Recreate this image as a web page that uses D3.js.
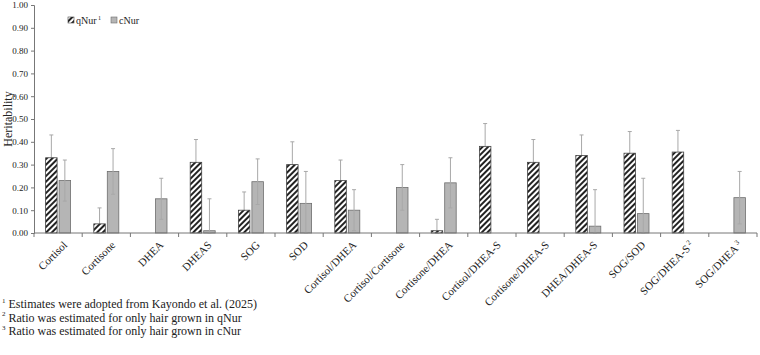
<!DOCTYPE html>
<html lang="en">
<meta charset="utf-8">
<head>
    <script src='https://d3js.org/d3.v7.min.js'></script>
    <style>
        body { margin: 0; background: #fff; }
        text { font-family: "Liberation Serif", "Times New Roman", serif; }
    </style>
</head>
<body>
<script>
    // chart data
    var traits = ["Cortisol", "Cortisone", "DHEA", "DHEAS", "SOG", "SOD",
        "Cortisol/DHEA", "Cortisol/Cortisone", "Cortisone/DHEA", "Cortisol/DHEA-S",
        "Cortisone/DHEA-S", "DHEA/DHEA-S", "SOG/SOD", "SOG/DHEA-S", "SOG/DHEA"];
    var traitSup = ["", "", "", "", "", "", "", "", "", "", "", "", "", "2", "3"];
    var qNur = [0.33, 0.04, null, 0.31, 0.10, 0.30, 0.23, null, 0.01, 0.38, 0.31, 0.34, 0.35, 0.355, null];
    var qErr = [0.10, 0.07, null, 0.10, 0.08, 0.10, 0.09, null, 0.05, 0.10, 0.10, 0.09, 0.095, 0.095, null];
    var cNur = [0.23, 0.27, 0.15, 0.01, 0.225, 0.13, 0.10, 0.20, 0.22, null, null, 0.03, 0.085, null, 0.155];
    var cErr = [0.09, 0.10, 0.09, 0.14, 0.10, 0.14, 0.09, 0.10, 0.11, null, null, 0.16, 0.155, null, 0.115];
    var yTicks = [0, 0.1, 0.2, 0.3, 0.4, 0.5, 0.6, 0.7, 0.8, 0.9, 1.0];
    var notes = [
        ["1", "Estimates were adopted from Kayondo et al. (2025)"],
        ["2", "Ratio was estimated for only hair grown in qNur"],
        ["3", "Ratio was estimated for only hair grown in cNur"]
    ];

    var W = 760, H = 355;
    var mLeft = 34, mRight = 757, mTop = 5, mBottom = 233;

    var svg = d3.select("body").append("svg")
        .attr("width", W)
        .attr("height", H);

    var defs = svg.append("defs");
    var pat = defs.append("pattern")
        .attr("id", "hatch")
        .attr("patternUnits", "userSpaceOnUse")
        .attr("width", 4)
        .attr("height", 4)
        .attr("patternTransform", "rotate(45)");
    pat.append("rect").attr("width", 4).attr("height", 4).attr("fill", "#fff");
    pat.append("rect").attr("width", 2).attr("height", 4).attr("fill", "#222");

    var x = d3.scaleBand()
        .domain(traits)
        .range([mLeft, mRight]);

    var y = d3.scaleLinear()
        .domain([0, 1])
        .range([mBottom, mTop]);

    var barW = 11.5, gap = 2;

    // y axis
    var yAxis = svg.append("g")
        .attr("transform", "translate(" + mLeft + ",0)")
        .call(d3.axisLeft(y).tickValues(yTicks).tickSize(3).tickFormat(d3.format(".2f")));
    yAxis.selectAll("text").style("font-size", "9px").attr("fill", "#222");
    yAxis.selectAll("line, path").attr("stroke", "#777");

    svg.append("text")
        .attr("transform", "translate(12," + ((mTop + mBottom) / 2) + ") rotate(-90)")
        .attr("text-anchor", "middle")
        .style("font-size", "12px")
        .attr("fill", "#222")
        .text("Heritability");

    function errBar(g, cx, v, e) {
        var lo = Math.max(0, v - e), hi = v + e;
        g.append("line").attr("x1", cx).attr("x2", cx).attr("y1", y(lo)).attr("y2", y(hi));
        g.append("line").attr("x1", cx - 2).attr("x2", cx + 2).attr("y1", y(hi)).attr("y2", y(hi));
        g.append("line").attr("x1", cx - 2).attr("x2", cx + 2).attr("y1", y(lo)).attr("y2", y(lo));
    }

    // qNur whiskers sit under the hatched bars, cNur whiskers over the grey bars
    var errQ = svg.append("g").attr("stroke", "#a8a8a8").attr("stroke-width", 1);
    var bars = svg.append("g");
    var errC = svg.append("g").attr("stroke", "#a8a8a8").attr("stroke-width", 1);

    traits.forEach(function(t, i) {
        var cx = x(t) + x.bandwidth() / 2;
        var qx = cx - gap / 2 - barW;
        var cxx = cx + gap / 2;
        if (qNur[i] != null) {
            bars.append("rect")
                .attr("x", qx).attr("y", y(qNur[i]))
                .attr("width", barW).attr("height", y(0) - y(qNur[i]))
                .attr("fill", "url(#hatch)")
                .attr("stroke", "#444").attr("stroke-width", 0.8);
            errBar(errQ, qx + barW / 2, qNur[i], qErr[i]);
        }
        if (cNur[i] != null) {
            bars.append("rect")
                .attr("x", cxx).attr("y", y(cNur[i]))
                .attr("width", barW).attr("height", y(0) - y(cNur[i]))
                .attr("fill", "#b5b5b5")
                .attr("stroke", "#6e6e6e").attr("stroke-width", 0.8);
            errBar(errC, cxx + barW / 2, cNur[i], cErr[i]);
        }
    });

    // x axis with ticks at category boundaries
    var xg = svg.append("g").attr("stroke", "#777");
    xg.append("line").attr("x1", mLeft).attr("x2", mRight).attr("y1", mBottom).attr("y2", mBottom);
    traits.forEach(function(t) {
        xg.append("line").attr("x1", x(t)).attr("x2", x(t)).attr("y1", mBottom).attr("y2", mBottom + 4);
    });
    xg.append("line").attr("x1", mRight).attr("x2", mRight).attr("y1", mBottom).attr("y2", mBottom + 4);

    var labels = svg.append("g");
    traits.forEach(function(t, i) {
        var cx = x(t) + x.bandwidth() / 2 + 7;
        var tx = labels.append("text")
            .attr("transform", "translate(" + cx + "," + (mBottom + 10) + ") rotate(-45)")
            .attr("text-anchor", "end")
            .attr("dy", "0.35em")
            .style("font-size", "11px")
            .attr("fill", "#222")
            .text(t);
        if (traitSup[i]) {
            tx.append("tspan").attr("dy", "-0.6em").style("font-size", "7px").text(" " + traitSup[i]);
        }
    });

    // legend
    var lg = svg.append("g").attr("transform", "translate(68,20)");
    lg.append("rect").attr("x", 0).attr("y", -3).attr("width", 6).attr("height", 6)
        .attr("fill", "url(#hatch)").attr("stroke", "#444").attr("stroke-width", 0.6);
    var lt = lg.append("text").attr("x", 8).attr("dy", "0.35em").style("font-size", "10px").attr("fill", "#222").text("qNur");
    lt.append("tspan").attr("dy", "-0.6em").style("font-size", "6px").text(" 1");
    lg.append("rect").attr("x", 43).attr("y", -3).attr("width", 6).attr("height", 6)
        .attr("fill", "#b5b5b5").attr("stroke", "#6e6e6e").attr("stroke-width", 0.6);
    lg.append("text").attr("x", 51).attr("dy", "0.35em").style("font-size", "10px").attr("fill", "#222").text("cNur");

    // footnotes
    notes.forEach(function(n, i) {
        var t = svg.append("text")
            .attr("x", 2)
            .attr("y", 306 + i * 13.5)
            .style("font-size", "12px")
            .attr("fill", "#222");
        t.append("tspan").attr("dy", "-0.45em").style("font-size", "7px").text(n[0]);
        t.append("tspan").attr("dy", "0.45em").text(" " + n[1]);
    });
</script>
</body>
</html>
